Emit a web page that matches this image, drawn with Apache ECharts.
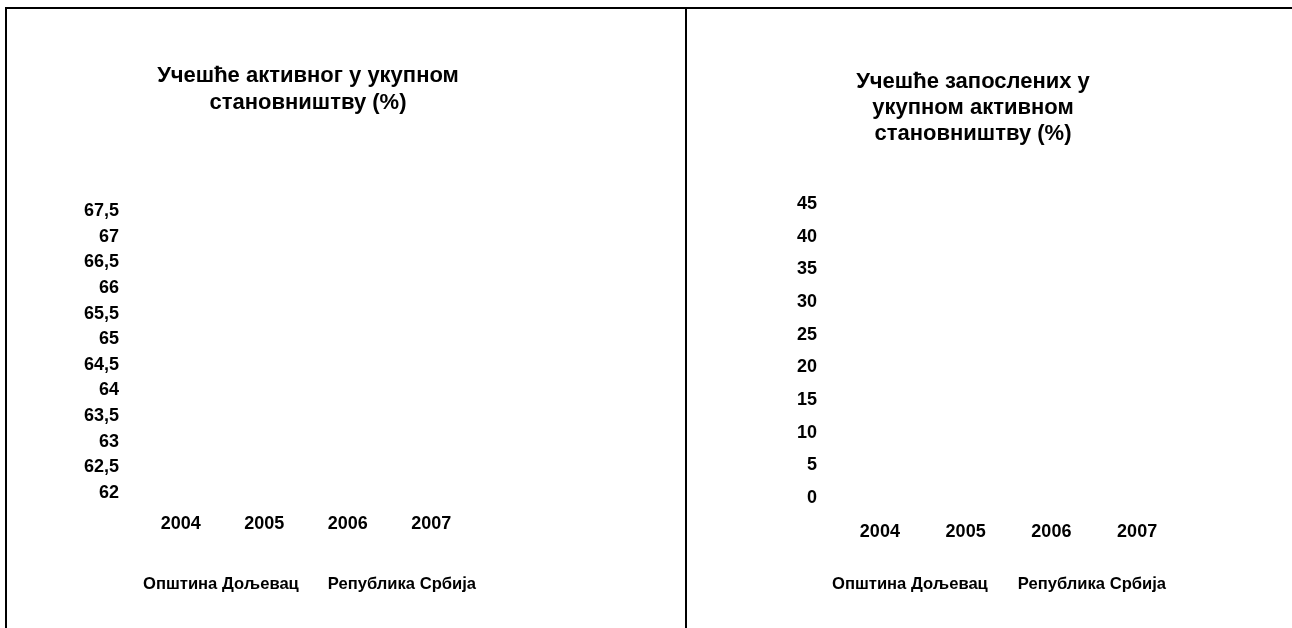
<!DOCTYPE html>
<html>
<head>
<meta charset="utf-8">
<script src="https://cdn.jsdelivr.net/npm/echarts@6/dist/echarts.min.js"></script>
<style>
	html, body { margin: 0; padding: 0; background: #fff; }
	#chart { position: absolute; left: 0; top: 0; width: 1292px; height: 628px; }
	.box { position: absolute; top: 7px; height: 640px; border-top: 2px solid #000; border-left: 2px solid #000; }
</style>
</head>
<body>
<div class="box" style="left:5px;width:680px;"></div>
<div class="box" style="left:685px;width:640px;"></div>
<div id="chart"></div>
<script>
// categories
var years = ["2004", "2005", "2006", "2007"]
var seriesNames = ["Општина Дољевац", "Република Србија"]
// no marks are visible in the picture, so the values are left empty
var activeDoljevac = [null, null, null, null]
var activeSerbia = [null, null, null, null]
var employedDoljevac = [null, null, null, null]
var employedSerbia = [null, null, null, null]
// value axis ranges
var activeAxis = {min: 62, max: 67.5, interval: 0.5}
var employedAxis = {min: 0, max: 45, interval: 5}

var font = "'Liberation Sans', Arial, sans-serif"
var chart = echarts.init(document.getElementById("chart"), null, {renderer: "canvas"})
function comma(v) { return String(v).replace(".", ",") }
function xAxis(idx, margin) {
	return {type: "category", gridIndex: idx, data: years, boundaryGap: true,
		axisLine: {show: false}, axisTick: {show: false}, splitLine: {show: false},
		axisLabel: {margin: margin, color: "#000", fontFamily: font, fontWeight: "bold", fontSize: 18}}
}
function yAxis(idx, range, margin) {
	return {type: "value", gridIndex: idx, min: range.min, max: range.max, interval: range.interval,
		axisLine: {show: false}, axisTick: {show: false}, splitLine: {show: false},
		axisLabel: {margin: margin, color: "#000", fontFamily: font, fontWeight: "bold", fontSize: 18, formatter: comma}}
}
function line(name, idx, data) {
	return {type: "line", name: name, xAxisIndex: idx, yAxisIndex: idx, data: data, symbol: "none", lineStyle: {color: "#fff", width: 0}, itemStyle: {color: "#fff"}}
}
var legendStyle = {color: "#000", fontFamily: font, fontWeight: "bold", fontSize: 16.6}
chart.setOption({
	animation: false,
	title: [
		{text: "Учешће активног у укупном\nстановништву (%)", left: 303, top: 57, textAlign: "center",
			textStyle: {fontFamily: font, fontWeight: "bold", fontSize: 22, lineHeight: 27, color: "#000"}},
		{text: "Учешће запослених у\nукупном активном\nстановништву (%)", left: 968, top: 64, textAlign: "center",
			textStyle: {fontFamily: font, fontWeight: "bold", fontSize: 22, lineHeight: 26, color: "#000"}},
	],
	legend: [
		{data: seriesNames.map(function(n) { return {name: n, icon: "none"} }), left: 133, top: 571, itemWidth: 0, itemGap: 24, textStyle: legendStyle, selectedMode: false},
		{data: seriesNames.map(function(n) { return {name: n + " ", icon: "none"} }), left: 822, top: 571, itemWidth: 0, itemGap: 25, textStyle: legendStyle, selectedMode: false, formatter: function(n) { return n.trim() }},
	],
	grid: [
		{left: 139, right: 819, top: 211, bottom: 135},
		{left: 837, right: 112, top: 204, bottom: 130},
	],
	xAxis: [xAxis(0, 22), xAxis(1, 25)],
	yAxis: [yAxis(0, activeAxis, 20), yAxis(1, employedAxis, 20)],
	series: [
		line(seriesNames[0], 0, activeDoljevac),
		line(seriesNames[1], 0, activeSerbia),
		line(seriesNames[0] + " ", 1, employedDoljevac),
		line(seriesNames[1] + " ", 1, employedSerbia),
	],
})
</script>
</body>
</html>
